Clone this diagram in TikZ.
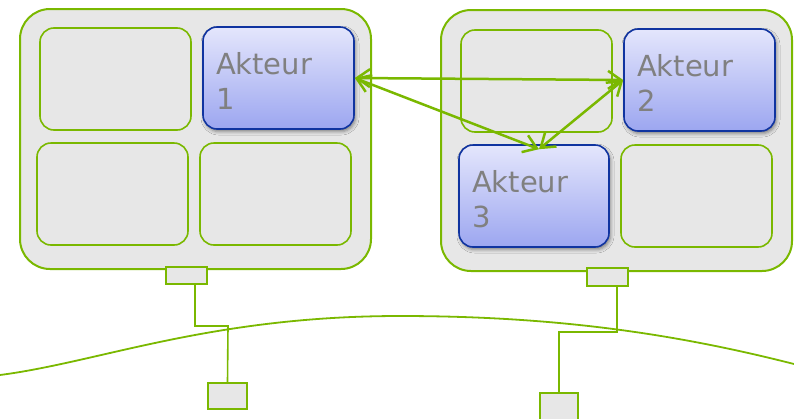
\documentclass[tikz,border=0pt]{standalone}
\usepackage{fontspec}
\setmainfont{DejaVu Sans}
\usetikzlibrary{arrows.meta,shadows.blur}
\definecolor{lgreen}{RGB}{122,184,0}
\definecolor{boxgray}{RGB}{231,231,231}
\definecolor{akborder}{RGB}{16,52,160}
\definecolor{aktop}{RGB}{228,230,252}
\definecolor{akbot}{RGB}{156,166,240}
\definecolor{txtgray}{RGB}{128,128,128}
\begin{document}
\begin{tikzpicture}[x=1pt,y=-1pt,
  bigbox/.style={draw=lgreen,line width=2pt,fill=boxgray,rounded corners=30pt,minimum width=351pt,minimum height=260pt,inner sep=0pt},
  cell/.style={draw=lgreen,line width=1.6pt,fill=boxgray,rounded corners=14pt,minimum width=151pt,minimum height=102pt,inner sep=0pt},
  akteur/.style={draw=akborder,line width=1.6pt,rounded corners=14pt,top color=aktop,bottom color=akbot,
     minimum width=151pt,minimum height=102pt,text width=125pt,inner xsep=13pt,inner ysep=0pt,align=left,
     text height=28pt,
     font=\fontsize{29}{35}\selectfont,text=txtgray,
     blur shadow={shadow xshift=1.5pt,shadow yshift=-2.5pt,shadow blur radius=3.5pt,shadow opacity=45}},
  port/.style={draw=lgreen,line width=1.6pt,fill=boxgray,inner sep=0pt},
  wire/.style={draw=lgreen,line width=1.6pt},
  biarrow/.style={draw=lgreen,line width=2.5pt,{Straight Barb[length=13pt,width=18pt]}-{Straight Barb[length=13pt,width=18pt]}}
]
\useasboundingbox (0,0) rectangle (794,418);

% network curve
\draw[wire,line width=1.8pt] (0,375) .. controls (100,362) and (210,316) .. (400,316)
   .. controls (560,316) and (680,335) .. (794,364);

% left station
\node[bigbox] (big1) at (195.5,139) {};
\node[cell] (c1a) at (115.5,79) {};
\node[cell] (c1c) at (112.5,194) {};
\node[cell] (c1d) at (275.5,194) {};
\node[akteur] (ak1) at (278.5,78) {Akteur\\1};
\node[port,minimum width=41pt,minimum height=17pt] (port1) at (186.5,275.5) {};
\node[port,minimum width=39pt,minimum height=26pt] (term1) at (227.5,396) {};

% right station
\node[bigbox,minimum height=261pt] (big2) at (616.5,140.5) {};
\node[cell] (c2a) at (536.5,81) {};
\node[cell] (c2d) at (696.5,196) {};
\node[akteur] (ak2) at (699.5,80) {Akteur\\2};
\node[akteur,minimum width=150pt,text width=124pt] (ak3) at (534,196) {Akteur\\3};
\node[port,minimum width=41pt,minimum height=18pt] (port2) at (607.5,277) {};
\node[port,minimum width=38pt,minimum height=28pt] (term2) at (559,407) {};

% connections to the bus
\coordinate (j1) at (228,326);
\coordinate (j2) at (559,332);
\draw[wire] ([xshift=8.5pt]port1.south) |- (j1) -- (term1.north);
\draw[wire] ([xshift=9.5pt]port2.south) |- (j2) -- (term2.north);

% interactions
\coordinate (a3t) at ([xshift=5pt,yshift=-5pt]ak3.north);
\draw[biarrow] (ak1.east) -- (ak2.west);
\draw[biarrow] (ak1.east) -- (a3t);
\draw[biarrow] (ak2.west) -- (a3t);
\end{tikzpicture}
\end{document}
